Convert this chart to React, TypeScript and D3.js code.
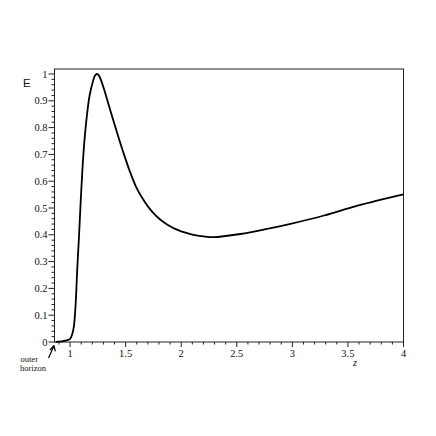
import React from 'react';
import * as d3 from 'd3';

const zValues = [0.87, 0.92, 0.96, 1.0, 1.02, 1.035, 1.05, 1.064, 1.08, 1.1, 1.115, 1.133, 1.151, 1.175, 1.207, 1.225, 1.241, 1.26, 1.295, 1.355, 1.415, 1.475, 1.535, 1.595, 1.65, 1.7, 1.75, 1.8, 1.85, 1.9, 1.95, 2.0, 2.1, 2.2, 2.29, 2.532, 2.773, 2.984, 3.285, 3.587, 4.0];
const eValues = [0.0, 0.002, 0.005, 0.012, 0.03, 0.06, 0.14, 0.266, 0.39, 0.56, 0.669, 0.769, 0.843, 0.918, 0.974, 0.994, 1.0, 0.994, 0.957, 0.874, 0.792, 0.713, 0.64, 0.578, 0.537, 0.506, 0.481, 0.461, 0.445, 0.432, 0.421, 0.413, 0.401, 0.394, 0.391, 0.403, 0.422, 0.441, 0.472, 0.509, 0.551];
const xTicks = [1, 1.5, 2, 2.5, 3, 3.5, 4];
const yTicks = [0, 0.1, 0.2, 0.3, 0.4, 0.5, 0.6, 0.7, 0.8, 0.9, 1];

const App = () => {
  const left = 54.5, right = 403.5, top = 69, bottom = 342;
  const x = d3.scaleLinear().domain([0.86, 4.0]).range([left, right]);
  const y = d3.scaleLinear().domain([0, 1]).range([bottom, 74]);

  const pts: [number, number][] = zValues.map((z, i) => [z, eValues[i]]);
  const line = d3.line<[number, number]>()
    .x(d => x(d[0]))
    .y(d => y(d[1]))
    .curve(d3.curveCatmullRom.alpha(0.5));

  const xMinor = d3.range(0.9, 4.0001, 0.1).filter(v => !xTicks.some(t => Math.abs(t - v) < 1e-6));
  const yMinor = d3.range(0, 1.0001, 0.02).filter(v => !yTicks.some(t => Math.abs(t - v) < 1e-6));

  const serif = '"Liberation Serif", "DejaVu Serif", serif';

  return (
    <svg width={436} height={436} style={{ position: 'absolute', left: 0, top: 0 }}>
      <rect width={436} height={436} fill="#fff" />
      <rect x={left} y={top} width={right - left} height={bottom - top} fill="none" stroke="#222" strokeWidth={1} />
      {yTicks.map(t => (
        <g key={'y' + t}>
          <line x1={left - 6} x2={left} y1={y(t)} y2={y(t)} stroke="#222" />
          <text x={left - 7} y={y(t) + 3.5} fontSize={10.5} fontFamily={serif} textAnchor="end" fill="#111">{t}</text>
        </g>
      ))}
      {yMinor.map(t => (
        <line key={'ym' + t} x1={left - 3} x2={left} y1={y(t)} y2={y(t)} stroke="#222" />
      ))}
      {xTicks.map(t => (
        <g key={'x' + t}>
          <line x1={x(t)} x2={x(t)} y1={bottom} y2={bottom + 5} stroke="#222" />
          <text x={x(t)} y={bottom + 15} fontSize={10.5} fontFamily={serif} textAnchor="middle" fill="#111">{t}</text>
        </g>
      ))}
      {xMinor.map(t => (
        <line key={'xm' + t} x1={x(t)} x2={x(t)} y1={bottom} y2={bottom + 2.5} stroke="#222" />
      ))}
      <path d={line(pts) ?? ''} fill="none" stroke="#000" strokeWidth={1.8} />
      <text x={23} y={87} fontSize={11.5} fontFamily='"Liberation Sans", Arial, sans-serif' fill="#111">E</text>
      <text x={355} y={366} fontSize={10.5} fontFamily={serif} fontStyle="italic" textAnchor="middle" fill="#111">z</text>
      <line x1={48.5} y1={358} x2={53.5} y2={347} stroke="#000" strokeWidth={1.2} />
      <path d="M 54 345.5 L 50 350 M 54 345.5 L 55.3 351.3" fill="none" stroke="#000" strokeWidth={1.2} />
      <text x={20.5} y={362} fontSize={8.5} fontFamily={serif} fill="#111">outer</text>
      <text x={20} y={371} fontSize={8.5} fontFamily={serif} fill="#111">horizon</text>
    </svg>
  );
};

export default App;
